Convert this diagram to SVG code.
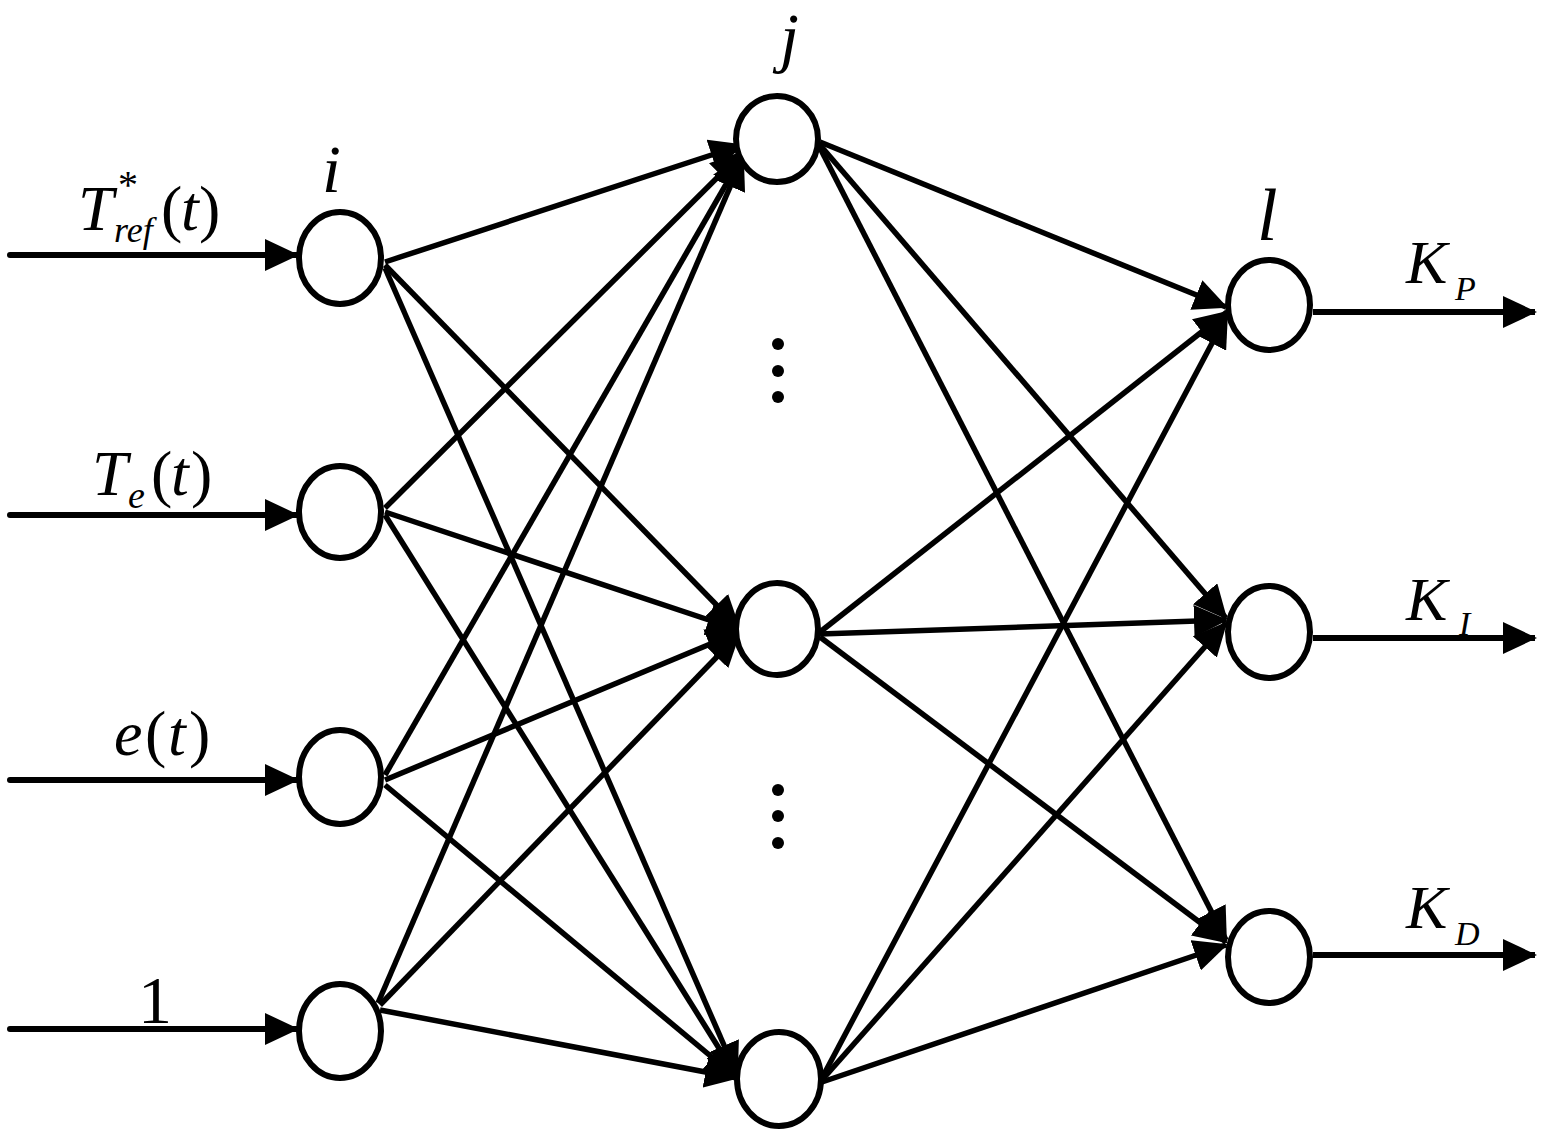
<svg xmlns="http://www.w3.org/2000/svg" width="1547" height="1138" viewBox="0 0 1547 1138">
<defs>
<style>
.node{fill:#fff;stroke:#000;stroke-width:6}
.c line{stroke:#000;stroke-width:5.5;marker-end:url(#ah)}
.io line{stroke:#000;stroke-width:6;stroke-linecap:round;marker-end:url(#ah)}
text{font-family:"Liberation Serif","Times New Roman",serif;fill:#000}
.it{font-style:italic}
.dot{fill:#000}
</style>
<marker id="ah" markerUnits="userSpaceOnUse" viewBox="0 0 34 32" refX="32" refY="16" markerWidth="34" markerHeight="32" orient="auto">
<path d="M0,0 L34,16 L0,32 z" fill="#000"/>
</marker>
</defs>
<rect width="1547" height="1138" fill="#fff"/>

<g id="connectors" class="c">
<line x1="385" y1="262" x2="742" y2="145"/>
<line x1="385" y1="265" x2="739" y2="628"/>
<line x1="385" y1="268" x2="737" y2="1075"/>
<line x1="385" y1="508" x2="743" y2="152"/>
<line x1="385" y1="512" x2="739" y2="630"/>
<line x1="385" y1="515" x2="737" y2="1077"/>
<line x1="385" y1="775" x2="743" y2="155"/>
<line x1="385" y1="780" x2="739" y2="632"/>
<line x1="385" y1="785" x2="737" y2="1078"/>
<line x1="378" y1="1003" x2="743" y2="157"/>
<line x1="380" y1="1005" x2="739" y2="634"/>
<line x1="380" y1="1010" x2="737" y2="1078"/>
<line x1="820" y1="142" x2="1226" y2="307"/>
<line x1="820" y1="145" x2="1226" y2="618"/>
<line x1="820" y1="148" x2="1226" y2="940"/>
<line x1="820" y1="632" x2="1227" y2="312"/>
<line x1="820" y1="634" x2="1226" y2="620"/>
<line x1="820" y1="637" x2="1226" y2="942"/>
<line x1="822" y1="1078" x2="1227" y2="315"/>
<line x1="822" y1="1080" x2="1226" y2="623"/>
<line x1="822" y1="1082" x2="1226" y2="945"/>
</g>

<g id="io-arrows" class="io">
<line x1="10" y1="255" x2="297" y2="255"/>
<line x1="10" y1="515" x2="297" y2="515"/>
<line x1="10" y1="780" x2="297" y2="780"/>
<line x1="10" y1="1029" x2="297" y2="1029"/>
<line x1="1313" y1="312" x2="1535" y2="312" style="stroke-linecap:butt"/>
<line x1="1313" y1="638" x2="1535" y2="638" style="stroke-linecap:butt"/>
<line x1="1313" y1="955" x2="1535" y2="955" style="stroke-linecap:butt"/>
</g>

<g id="input1"><ellipse class="node" cx="340" cy="258" rx="41" ry="46"/></g>
<g id="input2"><ellipse class="node" cx="340" cy="512" rx="41" ry="46"/></g>
<g id="input3"><ellipse class="node" cx="340" cy="777" rx="41" ry="47"/></g>
<g id="input4"><ellipse class="node" cx="340" cy="1031" rx="41" ry="47"/></g>
<g id="hidden1"><ellipse class="node" cx="777" cy="139" rx="41" ry="43"/></g>
<g id="hidden2"><ellipse class="node" cx="777" cy="629" rx="41" ry="46"/></g>
<g id="hidden3"><ellipse class="node" cx="779" cy="1079" rx="42" ry="47"/></g>
<g id="output1"><ellipse class="node" cx="1269" cy="305" rx="41" ry="45"/></g>
<g id="output2"><ellipse class="node" cx="1269" cy="632" rx="41" ry="46"/></g>
<g id="output3"><ellipse class="node" cx="1269" cy="957" rx="41" ry="46"/></g>

<g id="dots1">
<circle class="dot" cx="778" cy="344" r="6"/>
<circle class="dot" cx="778" cy="371" r="6"/>
<circle class="dot" cx="778" cy="397" r="6"/>
</g>
<g id="dots2">
<circle class="dot" cx="778" cy="790" r="6"/>
<circle class="dot" cx="778" cy="816" r="6"/>
<circle class="dot" cx="778" cy="843" r="6"/>
</g>

<g id="labels">
<text class="it" x="322" y="192" font-size="68">i</text>
<text class="it" x="780" y="60" font-size="68">j</text>
<text class="it" x="1257" y="240" font-size="74">l</text>

<text font-size="64"><tspan class="it" x="78" y="230">T</tspan><tspan x="118" y="198" font-size="40">*</tspan><tspan class="it" x="114" y="242" font-size="36">ref</tspan><tspan x="161" y="230">(</tspan><tspan class="it" x="181" y="230">t</tspan><tspan x="199" y="230">)</tspan></text>

<text font-size="64"><tspan class="it" x="92" y="495">T</tspan><tspan class="it" x="128" y="508" font-size="38">e</tspan><tspan x="151" y="495">(</tspan><tspan class="it" x="171" y="495">t</tspan><tspan x="191" y="495">)</tspan></text>

<text font-size="64"><tspan class="it" x="114" y="755">e</tspan><tspan x="145" y="755">(</tspan><tspan class="it" x="168" y="755">t</tspan><tspan x="189" y="755">)</tspan></text>

<text x="138" y="1023" font-size="68">1</text>

<text font-size="62"><tspan class="it" x="1406" y="283">K</tspan><tspan class="it" x="1455" y="300" font-size="34">P</tspan></text>
<text font-size="62"><tspan class="it" x="1406" y="620">K</tspan><tspan class="it" x="1459" y="635" font-size="34">I</tspan></text>
<text font-size="62"><tspan class="it" x="1406" y="928">K</tspan><tspan class="it" x="1455" y="945" font-size="34">D</tspan></text>
</g>
</svg>
